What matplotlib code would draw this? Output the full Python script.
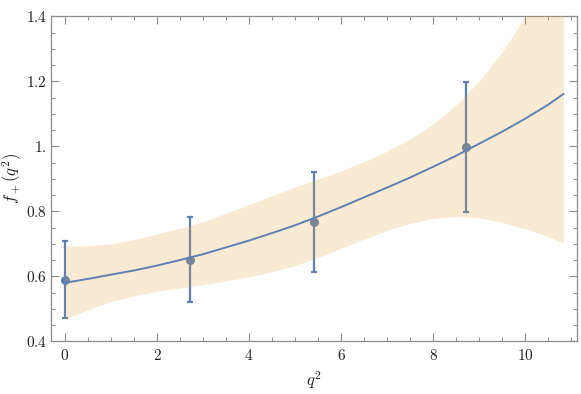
import numpy as np
import matplotlib.pyplot as plt
from matplotlib.ticker import MultipleLocator, FuncFormatter

plt.rcParams['mathtext.fontset'] = 'cm'

# data points with error bars
q2_pts = [0.0, 2.72, 5.41, 8.71]
f_pts = [0.590, 0.649, 0.766, 0.998]
f_lo = [0.471, 0.521, 0.614, 0.799]
f_hi = [0.709, 0.782, 0.921, 1.197]

# fitted curve and band
q2_fit = [0.0, 0.5, 1.0, 1.5, 2.0, 2.5, 3.0, 3.5, 4.0, 4.5, 5.0, 5.5,
          6.0, 6.5, 7.0, 7.5, 8.0, 8.5, 9.0, 9.5, 10.0, 10.5, 10.83]
f_fit = [0.580, 0.592, 0.605, 0.618, 0.633, 0.650, 0.668, 0.689, 0.710, 0.733,
         0.757, 0.784, 0.813, 0.843, 0.873, 0.904, 0.937, 0.971, 1.008, 1.045,
         1.085, 1.128, 1.161]
band_hi = [0.693, 0.694, 0.700, 0.713, 0.731, 0.748, 0.768, 0.794, 0.821, 0.848,
           0.875, 0.899, 0.925, 0.953, 0.985, 1.022, 1.068, 1.128, 1.200, 1.290,
           1.400, 1.530, 1.630]
band_lo = [0.468, 0.497, 0.522, 0.540, 0.554, 0.564, 0.574, 0.586, 0.598, 0.614,
           0.633, 0.658, 0.686, 0.714, 0.741, 0.763, 0.778, 0.784, 0.780, 0.766,
           0.746, 0.722, 0.702]

blue = '#5e81b5'
orange = '#e19c24'
frame = '#8c8c8c'

fig = plt.figure(figsize=(5.81, 3.94), dpi=100)
ax = fig.add_axes([0.0878, 0.1338, 0.9048, 0.8248])

ax.errorbar(q2_pts, f_pts,
            yerr=[np.array(f_pts) - np.array(f_lo), np.array(f_hi) - np.array(f_pts)],
            fmt='o', color=blue, ms=5.5, elinewidth=1.6, capsize=2.4,
            capthick=1.6, zorder=2)
ax.fill_between(q2_fit, band_lo, band_hi, color=orange, alpha=0.2, lw=0, zorder=3)
ax.plot(q2_fit, f_fit, color=blue, lw=1.4, zorder=4)

ax.set_xlim(-0.304, 11.12)
ax.set_ylim(0.4, 1.4)

ax.xaxis.set_major_locator(MultipleLocator(2))
ax.xaxis.set_minor_locator(MultipleLocator(0.5))
ax.yaxis.set_major_locator(MultipleLocator(0.2))
ax.yaxis.set_minor_locator(MultipleLocator(0.05))


def fmt_y(v, pos):
    s = '%.1f' % v
    if s.endswith('.0'):
        s = s[:-1]
    return '$' + s + '$'


ax.xaxis.set_major_formatter(FuncFormatter(lambda v, p: '$%d$' % round(v)))
ax.yaxis.set_major_formatter(FuncFormatter(fmt_y))

ax.tick_params(which='both', direction='in', top=True, right=True,
               color=frame, labelcolor='#222222', labelsize=11)
ax.tick_params(which='major', length=5.5, width=0.8)
ax.tick_params(which='minor', length=3, width=0.7)
ax.tick_params(axis='x', pad=5)
ax.tick_params(axis='y', pad=3)
for sp in ax.spines.values():
    sp.set_color(frame)
    sp.set_linewidth(0.9)

ax.set_xlabel(r'$q^2$', fontsize=12, color='#222222', labelpad=4)
ax.set_ylabel(r'$f_+(q^2)$', fontsize=12, color='#222222')
ax.yaxis.set_label_coords(-0.052, 0.5)

fig.savefig('out.png', dpi=100)
